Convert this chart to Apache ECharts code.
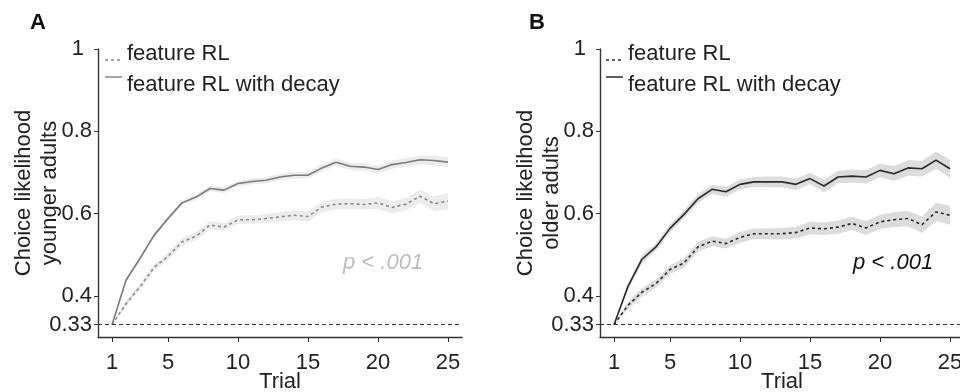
<!DOCTYPE html>
<html>
<head>
<meta charset="utf-8">
<title>Choice likelihood</title>
<script src="https://cdn.jsdelivr.net/npm/echarts@6.0.0/dist/echarts.min.js"></script>
<style>
  html, body { margin: 0; padding: 0; background: #fff; }
  #main { width: 960px; height: 392px; }
</style>
</head>
<body>
<div id="main"></div>
<script>
// trials on the x axis
var trials = [1, 2, 3, 4, 5, 6, 7, 8, 9, 10, 11, 12, 13, 14, 15, 16, 17, 18, 19, 20, 21, 22, 23, 24, 25];
var xTicks = [1, 5, 10, 15, 20, 25];
var yTicks = [0.33, 0.4, 0.6, 0.8, 1];

// panel A - younger adults
var youngDecay   = [0.33, 0.438, 0.491, 0.547, 0.588, 0.626, 0.640, 0.661, 0.657, 0.673, 0.678, 0.681, 0.689, 0.693, 0.693, 0.711, 0.725, 0.715, 0.713, 0.707, 0.719, 0.724, 0.731, 0.729, 0.725];
var youngDecaySe = [0, 0.006, 0.006, 0.006, 0.006, 0.006, 0.007, 0.007, 0.007, 0.007, 0.007, 0.008, 0.008, 0.008, 0.008, 0.009, 0.009, 0.009, 0.009, 0.010, 0.010, 0.011, 0.011, 0.012, 0.012];
var youngFeat    = [0.33, 0.381, 0.422, 0.469, 0.496, 0.531, 0.545, 0.572, 0.567, 0.585, 0.585, 0.588, 0.592, 0.596, 0.593, 0.616, 0.623, 0.624, 0.622, 0.626, 0.615, 0.623, 0.642, 0.624, 0.630];
var youngFeatSe  = [0, 0.007, 0.008, 0.008, 0.009, 0.009, 0.010, 0.010, 0.010, 0.010, 0.011, 0.011, 0.011, 0.012, 0.012, 0.012, 0.013, 0.013, 0.013, 0.014, 0.015, 0.015, 0.016, 0.018, 0.020];

// panel B - older adults
var oldDecay     = [0.33, 0.423, 0.489, 0.519, 0.564, 0.598, 0.636, 0.659, 0.653, 0.671, 0.677, 0.677, 0.677, 0.671, 0.685, 0.667, 0.689, 0.691, 0.689, 0.705, 0.697, 0.711, 0.709, 0.730, 0.709];
var oldDecaySe   = [0, 0.008, 0.009, 0.009, 0.010, 0.010, 0.011, 0.011, 0.012, 0.012, 0.012, 0.013, 0.013, 0.014, 0.014, 0.015, 0.015, 0.016, 0.016, 0.017, 0.018, 0.019, 0.019, 0.021, 0.022];
var oldFeat      = [0.33, 0.377, 0.409, 0.430, 0.464, 0.480, 0.519, 0.533, 0.527, 0.542, 0.551, 0.551, 0.551, 0.554, 0.565, 0.563, 0.567, 0.576, 0.565, 0.580, 0.585, 0.588, 0.573, 0.604, 0.596];
var oldFeatSe    = [0, 0.009, 0.010, 0.010, 0.011, 0.011, 0.012, 0.012, 0.012, 0.013, 0.013, 0.013, 0.014, 0.014, 0.015, 0.015, 0.016, 0.016, 0.017, 0.017, 0.018, 0.019, 0.020, 0.022, 0.023];

var FONT = '"Liberation Sans", Arial, Helvetica, sans-serif';
var chart = echarts.init(document.getElementById('main'));

function pairs(vals) {
  return trials.map(function (t, i) { return [t, vals[i]]; });
}

// shaded band drawn as one polygon
function band(idx, vals, se, color) {
  return {
    type: 'custom',
    xAxisIndex: idx, yAxisIndex: idx,
    silent: true, z: 1,
    data: [0],
    renderItem: function (params, api) {
      var top = [], bot = [];
      for (var i = 0; i < trials.length; i++) {
        top.push(api.coord([trials[i], vals[i] + se[i]]));
        bot.unshift(api.coord([trials[i], vals[i] - se[i]]));
      }
      return { type: 'polygon', shape: { points: top.concat(bot) }, style: { fill: color } };
    }
  };
}

function line(idx, vals, color, dashed) {
  return {
    type: 'line', xAxisIndex: idx, yAxisIndex: idx,
    data: pairs(vals), showSymbol: false, symbol: 'none', z: 3,
    lineStyle: { color: color, width: 1.6, type: dashed ? [3, 3] : 'solid' }
  };
}

function xAx(idx) {
  return {
    type: 'value', gridIndex: idx, min: 0, max: 26,
    name: 'Trial', nameLocation: 'middle', nameGap: 34, nameMoveOverlap: false,
    nameTextStyle: { fontFamily: FONT, fontSize: 22, color: '#222' },
    axisLine: { onZero: false, lineStyle: { color: '#333', width: 1.4 } },
    axisTick: { customValues: xTicks, length: 5, lineStyle: { color: '#333' } },
    axisLabel: { customValues: xTicks, margin: 15, fontFamily: FONT, fontSize: 22, color: '#222' },
    splitLine: { show: false }
  };
}

function yAx(idx, who) {
  return {
    type: 'value', gridIndex: idx, min: 0.3, max: 1,
    name: 'Choice likelihood\n' + who, nameLocation: 'middle', nameRotate: 90, nameGap: 35, nameMoveOverlap: false,
    nameTextStyle: { fontFamily: FONT, fontSize: 22, lineHeight: 26, color: '#222' },
    axisLine: { onZero: false, lineStyle: { color: '#333', width: 1.4 } },
    axisTick: { customValues: yTicks, length: 4, lineStyle: { color: '#333' } },
    axisLabel: {
      customValues: yTicks, margin: 6, fontFamily: FONT, fontSize: 22, color: '#222',
      formatter: function (v) { return v === 1 ? '{one|1}' : String(v); },
      rich: { one: { fontFamily: FONT, fontSize: 22, color: '#222', padding: [0, 8, 0, 0] } }
    },
    splitLine: { show: false }
  };
}

var chanceLine = {
  silent: true, symbol: 'none', label: { show: false },
  lineStyle: { color: '#333', type: [4, 3], width: 1 },
  data: [{ yAxis: 0.33 }]
};

function legend(x0, color) {
  return [
    { type: 'line', shape: { x1: x0, y1: 60, x2: x0 + 17, y2: 60 }, style: { stroke: color, lineWidth: 1.5, lineDash: [3, 3] } },
    { type: 'text', x: x0 + 22, y: 54, style: { text: 'feature RL', font: '22px ' + FONT, fill: '#222', verticalAlign: 'middle' } },
    { type: 'line', shape: { x1: x0, y1: 77, x2: x0 + 17, y2: 77 }, style: { stroke: color, lineWidth: 1.5 } },
    { type: 'text', x: x0 + 22, y: 85, style: { text: 'feature RL with decay', font: '22px ' + FONT, fill: '#222', verticalAlign: 'middle' } }
  ];
}

var seriesA = [
  band(0, youngFeat, youngFeatSe, '#ececec'),
  band(0, youngDecay, youngDecaySe, '#ececec'),
  line(0, youngFeat, '#8a8a8a', true),
  line(0, youngDecay, '#7a7a7a', false)
];
seriesA[2].markLine = chanceLine;

var seriesB = [
  band(1, oldFeat, oldFeatSe, '#dcdcdc'),
  band(1, oldDecay, oldDecaySe, '#dcdcdc'),
  line(1, oldFeat, '#2a2a2a', true),
  line(1, oldDecay, '#2a2a2a', false)
];
seriesB[2].markLine = chanceLine;

chart.setOption({
  animation: false,
  grid: [
    { left: 98, top: 49, width: 364, height: 288, outerBoundsMode: 'none', containLabel: false },
    { left: 600, top: 49, width: 364, height: 288, outerBoundsMode: 'none', containLabel: false }
  ],
  xAxis: [xAx(0), xAx(1)],
  yAxis: [yAx(0, 'younger adults'), yAx(1, 'older adults')],
  series: seriesA.concat(seriesB),
  graphic: [
    { type: 'text', x: 38, y: 23, style: { text: 'A', font: 'bold 22px ' + FONT, fill: '#111', align: 'center', verticalAlign: 'middle' } },
    { type: 'text', x: 537, y: 23, style: { text: 'B', font: 'bold 22px ' + FONT, fill: '#111', align: 'center', verticalAlign: 'middle' } },
    { type: 'text', x: 343, y: 263, style: { text: 'p < .001', font: 'italic 22px ' + FONT, fill: '#bdbdbd', verticalAlign: 'middle' } },
    { type: 'text', x: 853, y: 263, style: { text: 'p < .001', font: 'italic 22px ' + FONT, fill: '#111', verticalAlign: 'middle' } }
  ].concat(legend(105, '#8a8a8a'), legend(606, '#2a2a2a'))
});
</script>
</body>
</html>
